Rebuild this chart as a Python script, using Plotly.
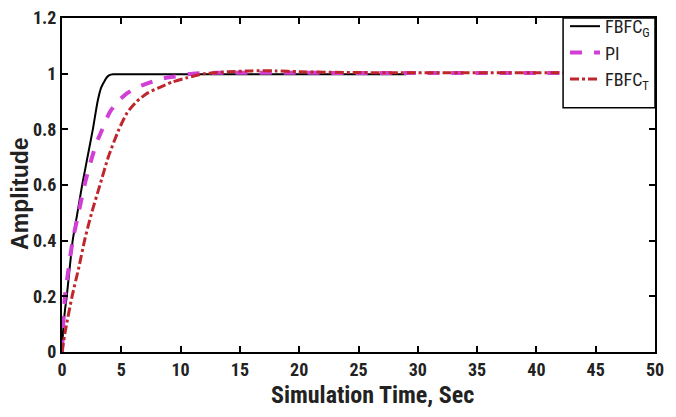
import plotly.graph_objects as go

# Series
t_fbfcg = [0, 0.1, 0.25, 0.4, 0.9, 1.3, 1.7, 2.15, 2.6, 3.0, 3.3, 3.6, 3.8, 4.0, 4.3, 5, 10, 20, 29]
y_fbfcg = [0, 0.08, 0.15, 0.2, 0.4, 0.5, 0.6, 0.7, 0.8, 0.9, 0.95, 0.975, 0.988, 0.995, 0.998, 0.998, 0.998, 0.998, 0.998]

t_pi = [0, 0.1, 0.25, 0.9, 1.4, 1.9, 2.4, 2.9, 3.4, 4.0, 4.7, 5.5, 6.3, 7.2, 8.2, 9.5, 11, 13, 20, 30, 40, 50]
y_pi = [0, 0.1, 0.2, 0.4, 0.5, 0.6, 0.68, 0.75, 0.8, 0.86, 0.9, 0.93, 0.95, 0.965, 0.98, 0.99, 1.0, 1.003, 1.003, 1.002, 1.002, 1.002]

t_fbfct = [0, 0.3, 0.85, 1.4, 1.9, 2.5, 3.2, 3.9, 4.8, 5.5, 6.3, 7.2, 8.2, 9.3, 10.5, 12, 14, 16, 18, 20, 25, 30, 40, 50]
y_fbfct = [0, 0.08, 0.2, 0.3, 0.4, 0.5, 0.6, 0.7, 0.8, 0.86, 0.9, 0.93, 0.95, 0.97, 0.985, 1.0, 1.007, 1.01, 1.01, 1.007, 1.004, 1.003, 1.003, 1.003]

names = ["FBFC<sub>G</sub>", "PI", "FBFC<sub>T</sub>"]
x_ticks = [0, 5, 10, 15, 20, 25, 30, 35, 40, 45, 50]
y_ticks = [0, 0.2, 0.4, 0.6, 0.8, 1, 1.2]
y_tick_labels = ["0", "0.2", "0.4", "0.6", "0.8", "1", "1.2"]
x_title = "Simulation Time, Sec"
y_title = "Amplitude"

NARROW = "Roboto Condensed, Liberation Sans Narrow, Arial Narrow, Liberation Sans, Arial"
WIDE = "Liberation Sans, Arial"

fig = go.Figure()
fig.add_trace(go.Scatter(x=t_fbfcg, y=y_fbfcg, mode="lines", name=names[0],
                         line=dict(color="black", width=2, shape="spline", smoothing=0.5),
                         legendgroup="a"))
fig.add_trace(go.Scatter(x=t_pi, y=y_pi, mode="lines", name=names[1],
                         line=dict(color="#d23fd6", width=4, dash="dash", shape="spline", smoothing=0.6),
                         legendgroup="b"))
fig.add_trace(go.Scatter(x=t_fbfct, y=y_fbfct, mode="lines", name=names[2],
                         line=dict(color="#c0262c", width=3, dash="dashdot", shape="spline", smoothing=0.6),
                         legendgroup="c"))

axis_common = dict(showline=True, linecolor="black", linewidth=2, mirror="allticks",
                   ticks="inside", ticklen=6, tickwidth=2, tickcolor="black",
                   showgrid=False, zeroline=False, ticklabeloverflow="allow",
                   tickfont=dict(family=NARROW, size=18, color="#222"))

fig.update_xaxes(range=[0, 50], tickvals=x_ticks, ticktext=[f"<b>{v}</b>" for v in x_ticks],
                 **axis_common)
fig.update_yaxes(range=[0, 1.2], tickvals=y_ticks, ticktext=[f"<b>{s}</b>" for s in y_tick_labels],
                 **axis_common)

fig.add_annotation(text=f"<b>{x_title}</b>", xref="paper", yref="paper",
                   x=0.523, y=-0.129, xanchor="center", yanchor="middle", showarrow=False,
                   font=dict(family=NARROW, size=24, color="#222"))
fig.add_annotation(text=f"<b>{y_title}</b>", xref="paper", yref="paper", textangle=-90,
                   x=-0.071, y=0.473, xanchor="center", yanchor="middle", showarrow=False,
                   font=dict(family=WIDE, size=23, color="#222"))

# legend frame (white box over the curves, legend entries drawn on top)
fig.add_shape(type="rect", xref="paper", yref="paper", x0=0.845, x1=1.0, y0=0.731, y1=1.0,
              line=dict(color="black", width=1.5), fillcolor="white", layer="above")

# page body has an 8px default margin, so the figure is made 8px smaller
fig.update_layout(
    width=668, height=409,
    margin=dict(l=54, r=21, t=10, b=65, autoexpand=False),
    paper_bgcolor="white", plot_bgcolor="white",
    showlegend=True,
    legend=dict(x=1, xanchor="right", y=1.03, yanchor="top",
                borderwidth=0, bgcolor="rgba(0,0,0,0)",
                font=dict(family=NARROW, size=18, color="#222"),
                tracegroupgap=10, traceorder="normal"),
)

fig.write_html("out.html")
